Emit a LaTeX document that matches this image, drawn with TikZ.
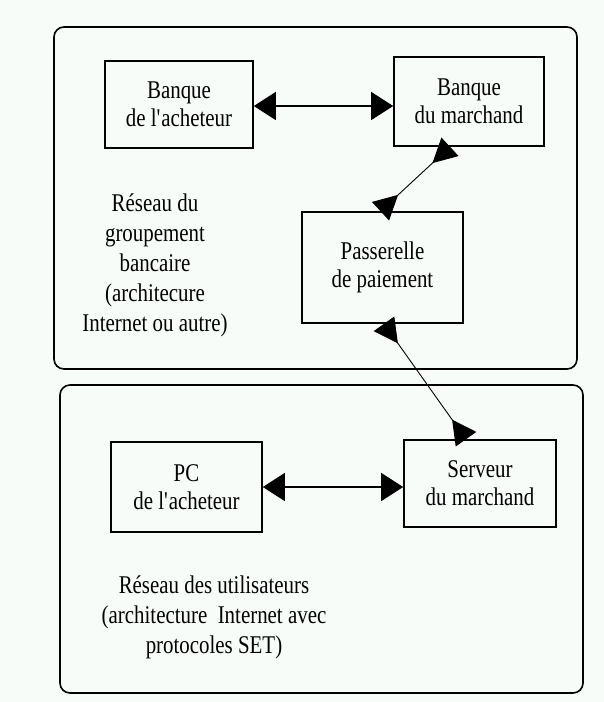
\documentclass[tikz,border=0pt]{standalone}
\usepackage{fontspec}
\setmainfont{Liberation Serif}[FakeStretch=0.82]
\usetikzlibrary{arrows.meta}
\definecolor{fond}{RGB}{248,252,249}

\begin{document}
\begin{tikzpicture}[x=1pt, y=-1pt,
    region/.style={draw, rounded corners=10pt, line width=1.6pt, inner sep=0pt},
    boite/.style={draw, line width=1.6pt, inner sep=0pt, align=center, font=\fontsize{25.5}{28}\selectfont},
    legende/.style={align=center, font=\fontsize{25.5}{30}\selectfont},
    fleche/.style={{Triangle[length=22pt,width=28pt]}-{Triangle[length=22pt,width=28pt]}, line width=1.2pt},
    flecheinv/.style={{Triangle[reversed,length=24pt,width=25pt]}-{Triangle[reversed,length=24pt,width=25pt]}, line width=0.9pt}
]

% Fond
\fill[fond] (0,0) rectangle (604,702);
\useasboundingbox (0,0) rectangle (604,702);

% Reseaux
\node[region, minimum width=523pt, minimum height=342pt] (bancaire) at (315.5,198) {};
\node[region, minimum width=523pt, minimum height=308pt] (utilisateurs) at (321.5,539) {};

% Groupement bancaire
\node[boite, minimum width=148pt, minimum height=87pt] (ba) at (179,104.5) {Banque\\de l\textquotesingle acheteur};
\node[boite, minimum width=150pt, minimum height=89pt] (bm) at (469,101.5) {Banque\\du marchand};
\node[boite, minimum width=161pt, minimum height=111pt] (pp) at (382.5,267.5) {Passerelle\\de paiement};
\node[legende] (lbanc) at (155,265) {Réseau du\\groupement\\bancaire\\(architecure\\Internet ou autre)};

% Utilisateurs
\node[boite, minimum width=151pt, minimum height=90pt] (pc) at (186.5,487) {PC\\de l\textquotesingle acheteur};
\node[boite, minimum width=152pt, minimum height=87pt] (sm) at (480,483.5) {Serveur\\du marchand};
\node[legende] (lutil) at (214,617) {Réseau des utilisateurs\\(architecture~ Internet avec\\protocoles SET)};

% Liaisons
\coordinate (h1) at ([yshift=-1.5pt]ba.east);
\draw[fleche] (h1) -- (h1 -| bm.west);
\draw[flecheinv] ([xshift=-19pt]bm.south) -- ([xshift=-2pt]pp.north);
\draw[flecheinv] ([xshift=1.5pt]pp.south) -- ([xshift=-14pt]sm.north);
\draw[fleche] (pc.east) -- (pc.east -| sm.west);

\end{tikzpicture}
\end{document}
